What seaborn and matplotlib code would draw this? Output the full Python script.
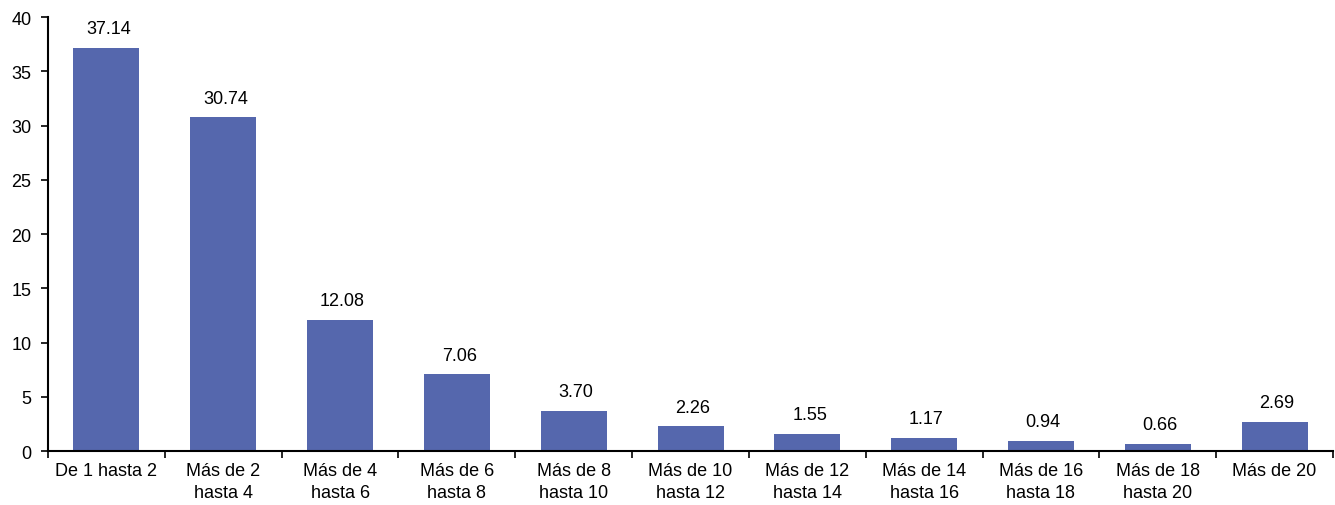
import matplotlib
matplotlib.use("Agg")
import matplotlib.pyplot as plt
import numpy as np
import pandas as pd
import seaborn as sns

categories = ["De 1 hasta 2", "Más de 2\nhasta 4", "Más de 4\nhasta 6", "Más de 6\nhasta 8",
              "Más de 8\nhasta 10", "Más de 10\nhasta 12", "Más de 12\nhasta 14", "Más de 14\nhasta 16",
              "Más de 16\nhasta 18", "Más de 18\nhasta 20", "Más de 20"]
values = [37.14, 30.74, 12.08, 7.06, 3.70, 2.26, 1.55, 1.17, 0.94, 0.66, 2.69]
y_ticks = [0, 5, 10, 15, 20, 25, 30, 35, 40]

bar_color = "#5567AD"

sns.set_style("white")
plt.rcParams['font.family'] = ['Liberation Sans', 'DejaVu Sans']
plt.rcParams['text.color'] = 'black'
plt.rcParams['xtick.color'] = 'black'
plt.rcParams['ytick.color'] = 'black'

df = pd.DataFrame({"cat": categories, "val": values})

fig = plt.figure(figsize=(13.35, 5.06), dpi=100)
ax = fig.add_axes([0.0360, 0.1067, 0.9625, 0.8577])

sns.barplot(data=df, x="cat", y="val", color=bar_color, saturation=1, width=0.565, ax=ax,
            linewidth=0)

for i, v in enumerate(values):
    ax.text(i + 0.02, v + 1.0, f"{v:.2f}", ha="center", va="bottom", fontsize=13, color="black")

ax.set_xlim(-0.5, len(categories) - 0.5)
ax.set_ylim(0, 40)
ax.set_yticks(y_ticks)
ax.set_xlabel("")
ax.set_ylabel("")

# category labels at centers without marks, tick marks at category boundaries
ax.set_xticks(np.arange(len(categories)))
ax.set_xticklabels(categories, linespacing=1.35)
ax.tick_params(axis="x", which="major", bottom=True, length=0, labelsize=13, pad=8)
ax.set_xticks(np.arange(-0.5, len(categories), 1.0), minor=True)
ax.tick_params(axis="x", which="minor", bottom=True, length=5, width=1.2, direction="out")
ax.tick_params(axis="y", left=True, length=5, width=1.2, direction="out", labelsize=13, pad=7)

for s in ["top", "right"]:
    ax.spines[s].set_visible(False)
for s in ["left", "bottom"]:
    ax.spines[s].set_color("black")
    ax.spines[s].set_linewidth(1.5)

fig.savefig("out.png", dpi=100, facecolor="white")
